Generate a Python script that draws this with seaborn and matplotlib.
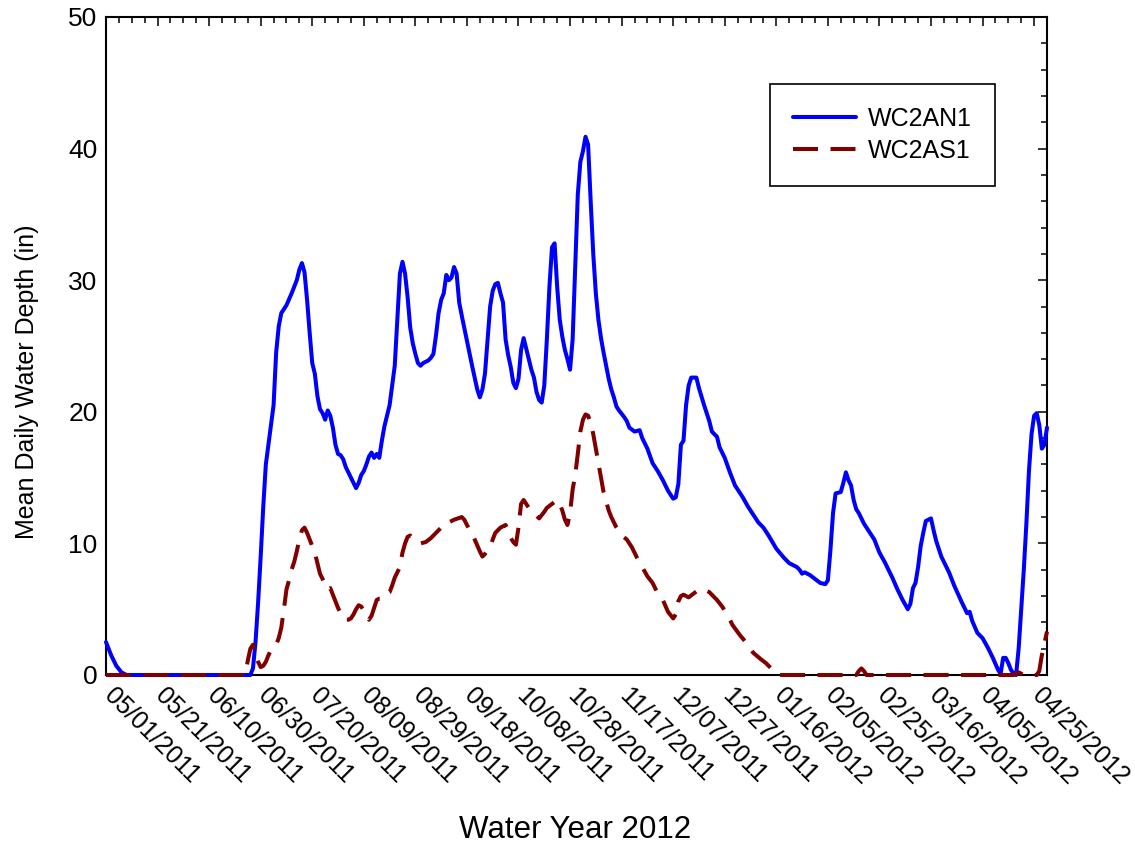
import numpy as np
import pandas as pd
import matplotlib
matplotlib.use("Agg")
import matplotlib.pyplot as plt
from matplotlib.transforms import ScaledTranslation
import seaborn as sns

# ---- data (day offset from 05/01/2011, depth in inches) ----
start_date = "2011-05-01"

an_days = [0, 2, 4, 6, 8, 56, 57, 58, 59, 60, 61, 62, 63, 64, 65, 66, 67, 68, 70, 72,
           74, 75, 76, 77, 78, 79, 80, 81, 82, 83, 84, 85, 86, 87, 88, 89, 90, 91, 92, 93,
           95, 96, 97, 98, 99, 100, 101, 102, 103, 104, 105, 106, 107, 108, 109, 110, 111, 112, 113, 114,
           115, 116, 117, 118, 119, 120, 121, 122, 123, 125, 126, 127, 128, 129, 130, 131, 132, 133, 134, 135,
           136, 137, 138, 140, 142, 144, 145, 146, 147, 148, 149, 150, 151, 152, 153, 154, 155, 156, 157, 158,
           159, 160, 161, 162, 163, 164, 165, 166, 167, 168, 169, 170, 171, 172, 173, 174, 175, 176, 177, 178,
           179, 180, 181, 182, 183, 184, 185, 186, 187, 188, 189, 190, 191, 192, 193, 194, 195, 196, 197, 198,
           199, 201, 202, 203, 205, 207, 208, 210, 212, 214, 216, 218, 220, 221, 222, 223, 224, 225, 226, 227,
           229, 230, 232, 234, 235, 237, 238, 240, 242, 244, 246, 247, 249, 251, 253, 255, 257, 260, 263, 265,
           268, 269, 270, 271, 273, 275, 277, 279, 280, 281, 282, 283, 285, 286, 287, 288, 289, 290, 291, 292,
           294, 296, 298, 300, 302, 305, 307, 309, 311, 312, 313, 314, 315, 316, 317, 318, 320, 321, 322, 324,
           327, 329, 332, 334, 335, 336, 338, 340, 342, 344, 346, 347, 348, 349, 350, 351, 352, 353, 354, 355,
           356, 357, 358, 359, 360, 361, 362, 363, 364, 365]
an_depth = [2.5, 1.5, 0.7, 0.2, 0.0, 0.0, 0.5, 2.5, 5.5, 9.0, 12.8, 16.0, 17.5, 19.0, 20.5, 24.5, 26.5, 27.5, 28.1, 29.0,
            30.0, 30.8, 31.3, 30.6, 28.5, 26.0, 23.7, 22.9, 21.2, 20.2, 19.9, 19.4, 20.1, 19.7, 18.8, 17.5, 16.8, 16.7, 16.4, 15.8,
            15.0, 14.6, 14.2, 14.6, 15.2, 15.5, 16.0, 16.6, 16.9, 16.5, 16.8, 16.5, 17.8, 18.9, 19.7, 20.5, 22.0, 23.5, 27.0, 30.5,
            31.4, 30.5, 28.7, 26.4, 25.2, 24.4, 23.7, 23.5, 23.7, 23.9, 24.1, 24.4, 25.8, 27.5, 28.5, 29.0, 30.4, 30.0, 30.2, 31.0,
            30.5, 28.3, 27.3, 25.4, 23.5, 21.7, 21.1, 21.7, 22.9, 25.5, 28.0, 29.2, 29.7, 29.8, 29.0, 28.3, 25.5, 24.3, 23.4, 22.2,
            21.8, 22.5, 24.7, 25.6, 24.8, 24.0, 23.2, 22.6, 21.5, 20.9, 20.7, 22.0, 25.5, 29.5, 32.5, 32.8, 29.5, 27.0, 25.7, 24.7,
            24.0, 23.2, 25.5, 31.0, 36.5, 39.0, 39.8, 40.9, 40.3, 36.0, 32.0, 29.0, 27.0, 25.6, 24.5, 23.5, 22.5, 21.7, 21.1, 20.4,
            20.1, 19.6, 19.3, 18.8, 18.5, 18.6, 18.0, 17.2, 16.1, 15.5, 14.8, 14.0, 13.4, 13.5, 14.5, 17.5, 17.8, 20.5, 22.0, 22.6,
            22.6, 21.8, 20.5, 19.3, 18.5, 18.1, 17.3, 16.5, 15.4, 14.4, 13.8, 13.5, 12.8, 12.2, 11.6, 11.2, 10.6, 9.6, 8.9, 8.5,
            8.2, 8.0, 7.7, 7.8, 7.6, 7.3, 7.0, 6.9, 7.2, 9.5, 12.3, 13.8, 13.9, 14.6, 15.4, 14.8, 14.4, 13.3, 12.6, 12.3,
            11.5, 10.9, 10.3, 9.3, 8.6, 7.4, 6.5, 5.7, 5.0, 5.4, 6.6, 7.0, 8.2, 9.8, 10.8, 11.7, 11.9, 11.0, 10.2, 9.0,
            7.8, 6.8, 5.5, 4.7, 4.8, 4.1, 3.2, 2.8, 2.1, 1.3, 0.4, 0.1, 1.3, 1.3, 0.9, 0.4, 0.1, 0.0, 2.0, 5.0,
            8.0, 11.5, 15.5, 18.3, 19.7, 19.9, 19.0, 17.2, 17.5, 18.8]

as_days = [0, 54, 55, 56, 57, 58, 59, 60, 61, 62, 63, 64, 66, 67, 68, 69, 70, 71, 72, 73,
           74, 75, 76, 77, 78, 79, 80, 81, 82, 83, 84, 85, 86, 87, 88, 89, 90, 91, 92, 93,
           94, 95, 96, 97, 98, 99, 100, 101, 102, 103, 104, 105, 106, 107, 108, 110, 111, 112, 113, 114,
           115, 116, 117, 118, 119, 120, 122, 124, 126, 128, 130, 132, 133, 135, 138, 139, 140, 142, 143, 145,
           146, 147, 149, 150, 151, 153, 155, 156, 157, 158, 159, 160, 161, 162, 163, 164, 166, 168, 170, 171,
           173, 175, 176, 177, 178, 179, 180, 181, 182, 183, 184, 185, 186, 187, 188, 189, 190, 191, 192, 193,
           194, 195, 196, 197, 198, 200, 202, 204, 206, 208, 210, 212, 214, 216, 218, 220, 221, 222, 223, 224,
           226, 228, 230, 232, 234, 237, 239, 241, 243, 246, 249, 251, 254, 256, 258, 260, 261, 291, 292, 293,
           294, 295, 352, 353, 354, 355, 356, 361, 362, 363, 364, 365]
as_depth = [0.0, 0.0, 1.1, 2.0, 2.3, 1.5, 1.0, 0.6, 0.7, 1.0, 1.5, 1.9, 2.3, 2.8, 3.6, 5.0, 6.5, 7.2, 8.0, 8.6,
            9.4, 10.3, 11.0, 11.2, 10.8, 10.3, 9.8, 9.3, 8.5, 7.7, 7.3, 6.8, 6.5, 6.6, 6.1, 5.6, 5.1, 4.7, 4.3, 4.2,
            4.2, 4.3, 4.6, 5.0, 5.3, 5.2, 4.9, 4.6, 4.2, 4.5, 5.1, 5.7, 5.8, 5.8, 6.1, 6.3, 6.8, 7.4, 7.8, 8.2,
            9.3, 10.0, 10.5, 10.6, 10.4, 10.3, 10.0, 10.1, 10.4, 10.8, 11.2, 11.3, 11.6, 11.8, 12.0, 11.8, 11.4, 10.7, 10.3, 9.4,
            9.0, 9.2, 9.7, 10.3, 10.8, 11.2, 11.4, 11.0, 10.4, 10.1, 9.9, 11.2, 13.0, 13.3, 13.0, 12.7, 12.3, 11.9, 12.4, 12.7,
            13.0, 13.3, 13.0, 12.5, 11.8, 11.4, 12.3, 14.1, 15.2, 16.8, 18.5, 19.4, 19.8, 19.7, 19.2, 18.3, 17.2, 16.1, 15.0, 13.9,
            13.2, 12.5, 12.0, 11.6, 11.2, 10.6, 10.3, 9.7, 8.9, 8.2, 7.5, 7.0, 6.2, 5.7, 4.8, 4.3, 4.6, 5.6, 6.0, 6.1,
            5.9, 6.2, 6.5, 6.5, 6.3, 5.7, 5.2, 4.6, 3.8, 3.0, 2.3, 1.7, 1.2, 0.9, 0.5, 0.1, 0.0, 0.0, 0.3, 0.5,
            0.3, 0.0, 0.0, 0.1, 0.2, 0.1, 0.0, 0.0, 0.3, 1.5, 2.4, 3.3]

series_names = ["WC2AN1", "WC2AS1"]
series_colors = ["#0000FF", "#800000"]
x_label = "Water Year 2012"
y_label = "Mean Daily Water Depth (in)"

# ---- build long-form table ----
t0 = pd.Timestamp(start_date)
df = pd.concat([
    pd.DataFrame({"date": t0 + pd.to_timedelta(an_days, unit="D"), "depth": an_depth, "site": series_names[0]}),
    pd.DataFrame({"date": t0 + pd.to_timedelta(as_days, unit="D"), "depth": as_depth, "site": series_names[1]}),
], ignore_index=True)

sns.set_theme(style="white")
plt.rcParams["font.family"] = ["Liberation Sans", "DejaVu Sans"]
plt.rcParams["lines.scale_dashes"] = False
for k in ["text.color", "axes.labelcolor", "xtick.color", "ytick.color", "axes.edgecolor"]:
    plt.rcParams[k] = "black"

fig = plt.figure(figsize=(11.35, 8.48), dpi=100)
ax = fig.add_axes([106 / 1135, 1 - 675 / 848, (1047 - 106) / 1135, (675 - 17) / 848])

sns.lineplot(data=df, x="date", y="depth", hue="site", style="site",
             hue_order=series_names, style_order=series_names,
             palette=dict(zip(series_names, series_colors)),
             dashes={series_names[0]: "", series_names[1]: (18, 9)},
             linewidth=2.9, estimator=None, sort=True, ax=ax)

for ln in ax.lines:
    ln.set_clip_on(False)
    ln.set_zorder(5)
    ln.set_solid_joinstyle("round")
    ln.set_dash_capstyle("butt")

ax.set_xlim(pd.Timestamp("2011-05-01"), pd.Timestamp("2012-04-30"))
ax.set_ylim(0, 50)

major = pd.date_range("2011-05-01", "2012-04-25", freq="20D")
minor = pd.date_range("2011-05-01", "2012-04-30", freq="5D")
ax.set_xticks(major)
ax.set_xticks(minor, minor=True)
ax.set_yticks(np.arange(0, 51, 10))
ax.set_yticks(np.arange(0, 51, 2), minor=True)

ax.tick_params(which="both", direction="in", top=True, right=True, color="black", width=1.1)
ax.tick_params(which="major", length=6.5)
ax.tick_params(which="minor", length=4)
ax.tick_params(axis="x", which="major", pad=6)
ax.tick_params(axis="y", which="major", pad=6, labelsize=19)

ax.set_xticklabels([d.strftime("%m/%d/%Y") for d in major], rotation=-45,
                   ha="left", va="top", fontsize=18)

for s in ax.spines.values():
    s.set_visible(True)
    s.set_color("black")
    s.set_linewidth(1.5)

ax.set_xlabel("")
ax.set_ylabel("")
fig.text(27 / 1135, 1 - 382 / 848, y_label, fontsize=18, rotation=90, ha="center", va="center")
fig.text(575 / 1135, 1 - 830 / 848, x_label, fontsize=22.5, ha="center", va="center")

handles, labels = ax.get_legend_handles_labels()
leg = ax.legend(handles, labels, loc="upper left",
                bbox_to_anchor=(770 / 1135, 1 - 84 / 848), bbox_transform=fig.transFigure,
                fontsize=18, handlelength=2.5, handletextpad=0.5, borderpad=0.92,
                labelspacing=0.3, borderaxespad=0, fancybox=False, framealpha=1)
leg.get_frame().set_edgecolor("black")
leg.get_frame().set_linewidth(1.2)

# nudge rotated date labels left so they start right at their tick (after all tick_params)
shift = ScaledTranslation(-7 / 100, 0, fig.dpi_scale_trans)
for tk in ax.xaxis.get_major_ticks():
    tk.label1.set_transform(tk.label1.get_transform() + shift)

fig.savefig("out.png", dpi=100, facecolor="white")
